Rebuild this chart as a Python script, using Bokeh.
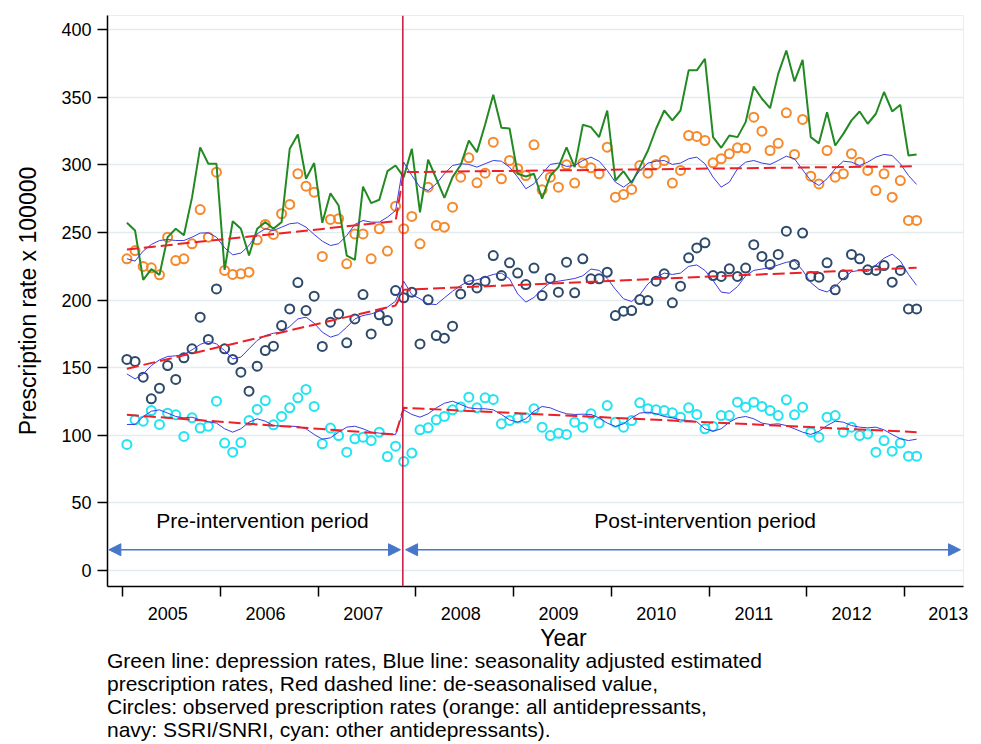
import pandas as pd
from bokeh.plotting import figure
from bokeh.layouts import column
from bokeh.models import FixedTicker, Span, Arrow, NormalHead, Label, Range1d
from bokeh.embed import file_html
from bokeh.resources import INLINE

# ---------------- data (monthly, Jan 2005 - Feb 2013) ----------------
months = pd.date_range("2005-01-01", periods=98, freq="MS")

depression = [257.2, 251.5, 215, 223, 218.7, 246.6, 252.8, 248, 276, 313,
              300.9, 300.9, 222.4, 258.4, 252.8, 233, 252.8, 257.7, 252.8, 257.7,
              312, 322.6, 289.8, 301.4, 257.2, 279, 270, 233, 229.8, 284,
              271.8, 274.3, 295.4, 299.6, 291, 312, 265, 304, 289.8, 275.7,
              291, 300, 318, 309.5, 330, 352, 327.5, 327, 293.5, 291.5,
              293.5, 275, 292, 298.4, 313, 298.4, 329.7, 328, 320.6, 340.3,
              288.5, 295.4, 286.6, 298.4, 310.7, 326.8, 340.3, 333, 340.3, 370,
              370, 378.5, 320.6, 312.7, 321.8, 320.6, 331.7, 358, 349, 342,
              367.4, 384.7, 361.8, 377.8, 320.6, 316, 339, 314.4, 323, 333,
              339.6, 330.5, 337.9, 354, 339.6, 344.5, 307, 307.8]

all_obs = [230.6, 236.7, 224.9, 223.9, 218.7, 246.6, 229.3, 230.6, 241.7, 267,
           246.6, 294.7, 222, 219, 219.5, 220.7, 244.6, 256, 248.6, 263.9,
           270.8, 293.5, 284.3, 279.9, 232.3, 259.7, 260.2, 226.9, 249, 249,
           230.6, 252.8, 236.3, 269.5, 252.8, 261.9, 241.7, 283.6, 255.2, 254,
           268.8, 291, 305.3, 286.8, 293.9, 316.9, 289.8, 303.3, 297.2, 292.2,
           314.9, 281.6, 291, 283.6, 300.1, 286.6, 301.4, 297.9, 293.5, 313.2,
           276.2, 278.2, 281.9, 299.6, 293.9, 300.4, 303.3, 286.6, 296, 321.8,
           321.1, 318.1, 301.6, 304.6, 308.3, 312.7, 312.5, 335.4, 325, 310.7,
           316, 338.6, 307.8, 333.7, 291.7, 286, 310.7, 291, 293.5, 308.3,
           302.1, 296, 281.1, 293.5, 276.2, 288.5, 259, 259]

ssri_obs = [156.1, 154.6, 143, 127, 134.8, 151.6, 141.3, 157.3, 164, 187.4,
            170.9, 208.3, 164, 156.1, 146.7, 132.6, 151.1, 162.7, 165.9, 181.2,
            193.5, 213, 192.3, 202.9, 165.7, 183.7, 189.8, 168.4, 186.1, 204.1,
            175, 189.1, 184.9, 207.1, 201.7, 205.9, 167.6, 200.2, 173.8, 171.8,
            180.7, 204.6, 215, 209, 214, 233, 218.2, 227.6, 220, 211.5,
            223.7, 203.4, 216, 205.9, 228.1, 205.4, 230.6, 215.8, 215.8, 220.7,
            188.6, 191.8, 192.3, 200.4, 199.7, 214, 219.5, 198, 210.3, 231.3,
            238.6, 242.4, 218.2, 217.5, 223.2, 217.5, 223.7, 241, 232.3, 226.4,
            233.8, 251, 226.4, 249.6, 217.5, 217, 227.6, 207.6, 218.7, 233.8,
            230.6, 222.4, 222, 225.6, 213.3, 222, 193.5, 193.5]

other_obs = [93.2, 111.4, 110.4, 118.3, 108, 116.3, 115.1, 99.1, 112.9, 105.3,
             106.7, 125.2, 94.2, 87.5, 94.6, 110.9, 119.1, 125.7, 107.7, 113.9,
             120.3, 127.7, 133.9, 121.3, 93.7, 105.3, 99.8, 87.5, 97.4, 98.6,
             96.1, 102.3, 84.3, 91.9, 80.6, 86.8, 104, 105.5, 111.4, 113.9,
             118.8, 121, 128.2, 120.3, 127.7, 126.5, 108.5, 111, 112.7, 113,
             119.6, 106, 99.8, 101.5, 100.6, 109.7, 106, 115.9, 109, 122,
             109.7, 106, 110.9, 124, 119.6, 118.8, 118.3, 116.6, 113.4, 120.3,
             115.4, 104.8, 106.5, 114.6, 114.6, 124.5, 120.8, 124.5, 121.3, 118.3,
             114.6, 126.2, 115.1, 120.8, 102.3, 98.6, 113.4, 114.6, 102.3, 106,
             99.8, 101, 87.5, 96.1, 88.2, 94.2, 84.5, 84.5]

all_fit = [230.6, 228.9, 236.3, 241.2, 244.1, 244.9, 244.1, 244.1, 246.6, 249.6,
           249.8, 246.6, 238.7, 233.5, 234.8, 240.4, 249.1, 252.8, 251.5, 254,
           256.5, 257.2, 254, 248.6, 243.6, 240.4, 241.7, 247.8, 256, 258.9,
           257.7, 257.7, 261.4, 266.3, 302.1, 292.2, 283.6, 281.1, 286.1, 293.5,
           299.6, 300.9, 300.4, 298.4, 300.9, 303.3, 302.8, 298.4, 291, 282.4,
           286.1, 293.5, 300.4, 301.4, 298.9, 299.6, 303.3, 305.8, 302.8, 295.9,
           287.3, 283.6, 288, 295.9, 301.4, 302.8, 303.3, 300.4, 301.4, 304.6,
           305.8, 300.9, 291, 283.6, 287.3, 297.2, 302.1, 303.3, 301.4, 300.4,
           303.3, 306.5, 304.6, 296.4, 288.5, 284.8, 289.8, 297.2, 302.8, 302.1,
           299.6, 302.1, 305.8, 307.8, 307, 300.9, 292.2, 285.6]

ssri_fit = [145.4, 141.7, 145.4, 151.6, 155.8, 158.3, 158.8, 159.8, 163.2, 167.2,
            169.4, 167.6, 162.7, 156.5, 157.8, 164, 170.1, 173.8, 175.5, 176.3,
            180.5, 186.1, 187.4, 182.9, 176.3, 172.6, 174.5, 180, 186.1, 188.6,
            189.8, 191.8, 194.8, 199.2, 214, 204.1, 201, 197.2, 196.7, 201.7,
            206.6, 210.8, 214, 215, 217, 219, 220, 215.8, 204.6, 198.5,
            202, 208, 213, 214, 215, 216, 218, 223, 222, 216,
            208, 201, 199, 204, 212, 217, 220, 219, 220, 225,
            226, 222, 214.5, 205.9, 205.1, 210, 218, 222, 223, 224,
            226, 228, 229, 222, 213, 208, 206, 210, 216, 221,
            222, 221, 226, 231, 234, 229, 219, 211]

other_fit = [108, 108, 113.9, 117.8, 118.8, 116.4, 113.9, 112.9, 113.4, 111.4,
             110, 109, 104.8, 102.3, 104.8, 109.7, 112.2, 110.4, 107.2, 106.7,
             106.7, 106.5, 104.8, 100.6, 97.1, 98.1, 102.3, 106, 106.7, 104.8,
             102.3, 101.6, 100.6, 100.6, 118.8, 115.4, 113.4, 115.9, 120.3, 123.7,
             125.2, 122.8, 120.3, 119.6, 119.6, 118.8, 115.4, 111.4, 109.7, 112.2,
             117.8, 121.3, 120.3, 117.8, 115.9, 115.4, 115.6, 115.4, 112.9, 109,
             106.5, 108.5, 112.9, 116.4, 117.1, 115.9, 113.9, 112.9, 111.4, 110.9,
             110, 104.8, 103, 104.8, 109.7, 112.9, 113.9, 112.2, 109, 108,
             108.5, 107.2, 104.8, 102.3, 100.6, 103, 107.2, 110.4, 109.7, 107.2,
             106, 105.5, 106, 104, 100.6, 97.4, 96.1, 97.1]

# de-seasonalised segmented trends: values at first/last month pre and post intervention
trend_idx = [0, 33, 34, 97]
all_trend = [237.5, 258.4, 294.7, 299.1]
ssri_trend = [149.2, 196.0, 207.6, 224.0]
other_trend = [115.1, 100.6, 120.3, 102.3]

year_ticks = [2005, 2006, 2007, 2008, 2009, 2010, 2011, 2012, 2013]
y_ticks = [0, 50, 100, 150, 200, 250, 300, 350, 400]
intervention = 2007.866

caption = [
    "Green line: depression rates, Blue line: seasonality adjusted estimated",
    "prescription rates, Red dashed line: de-seasonalised value,",
    "Circles: observed prescription rates (orange: all antidepressants,",
    "navy: SSRI/SNRI, cyan: other antidepressants).",
]

# ---------------- main figure ----------------
t = list(months.year + (months.month - 0.5) / 12.0)
t_trend = [t[i] for i in trend_idx]

FONT = "Liberation Sans"
GREEN = "#238a23"
ORANGE = "#f5892b"
NAVY = "#2d4a6a"
CYAN = "#22e3f0"
BLUE = "#3c3ce0"
RED = "#ec2026"
ARROW = "#4677c8"

W = 973
H1 = 623
H2 = 121
LEFT = 107
RIGHT = 10

p = figure(width=W, height=H1, output_backend="svg", toolbar_location=None,
           x_range=(2004.843, 2013.605), y_range=(-11.9, 410.6),
           min_border_left=LEFT, min_border_right=RIGHT, min_border_top=15,
           min_border_bottom=37)
p.background_fill_color = "white"
p.border_fill_color = "white"
p.outline_line_color = "#e6eef1"

for vals, col in [(all_obs, ORANGE), (ssri_obs, NAVY), (other_obs, CYAN)]:
    p.scatter(t, vals, marker="circle", size=9, fill_color=None,
              line_color=col, line_width=2)

p.line(t, depression, line_color=GREEN, line_width=2)

for vals in [all_fit, ssri_fit, other_fit]:
    p.line(t, vals, line_color=BLUE, line_width=1)

for vals in [all_trend, ssri_trend, other_trend]:
    p.line(t_trend, vals, line_color=RED, line_width=2, line_dash="12 5")

p.add_layout(Span(location=intervention, dimension="height",
                  line_color="#c8143a", line_width=1.5))

p.xgrid.visible = False
p.ygrid.grid_line_color = "#e3ecef"
p.ygrid.grid_line_width = 1.5

p.yaxis.ticker = FixedTicker(ticks=y_ticks)
p.yaxis.major_tick_out = 10
p.yaxis.major_tick_in = 0
p.yaxis.minor_tick_out = 0
p.yaxis.minor_tick_in = 0
p.yaxis.major_tick_line_width = 1.5
p.yaxis.axis_line_width = 1.5
p.yaxis.major_label_text_font = FONT
p.yaxis.major_label_text_font_size = "18px"
p.yaxis.major_label_text_color = "black"
p.yaxis.major_label_standoff = 6
p.yaxis.axis_label = "Prescription rate x 100000"
p.yaxis.axis_label_text_font = FONT
p.yaxis.axis_label_text_font_size = "23px"
p.yaxis.axis_label_text_font_style = "normal"
p.yaxis.axis_label_text_color = "black"
p.yaxis.axis_label_standoff = 17

label_pos = [y + 0.46 for y in year_ticks[:-1]] + [year_ticks[-1] + 0.45]
p.xaxis.ticker = FixedTicker(ticks=label_pos, minor_ticks=year_ticks)
p.xaxis.major_label_overrides = {pos: str(y) for pos, y in zip(label_pos, year_ticks)}
p.xaxis.major_tick_line_color = None
p.xaxis.major_tick_out = 0
p.xaxis.major_tick_in = 0
p.xaxis.minor_tick_out = 10
p.xaxis.minor_tick_in = 0
p.xaxis.minor_tick_line_width = 1.5
p.xaxis.minor_tick_line_color = "black"
p.xaxis.axis_line_width = 1.5
p.xaxis.major_label_text_font = FONT
p.xaxis.major_label_text_font_size = "18px"
p.xaxis.major_label_text_color = "black"
p.xaxis.major_label_standoff = 10

for x0, x1, txt_x, txt in [(2004.857, 2007.842, 2006.43, "Pre-intervention period"),
                           (2007.894, 2013.574, 2010.96, "Post-intervention period")]:
    p.add_layout(Arrow(start=NormalHead(size=12, fill_color=ARROW, line_color=ARROW),
                       end=NormalHead(size=12, fill_color=ARROW, line_color=ARROW),
                       x_start=x0, y_start=15.3, x_end=x1, y_end=15.3,
                       line_color=ARROW, line_width=1.5))
    p.add_layout(Label(x=txt_x, y=37, text=txt, text_align="center",
                       text_baseline="middle", text_font=FONT,
                       text_font_size="21px", text_color="black"))

# ---------------- caption strip (x title + notes) ----------------
# its frame is aligned with the main frame, so x is in page pixels LEFT .. W-RIGHT
c = figure(width=W, height=H2, output_backend="svg", toolbar_location=None,
           x_range=Range1d(LEFT, W - RIGHT), y_range=Range1d(H2, 0),
           x_axis_type=None, y_axis_type=None,
           min_border_left=LEFT, min_border_right=RIGHT,
           min_border_top=0, min_border_bottom=0)
c.outline_line_color = None
c.grid.visible = False
c.background_fill_color = "white"
c.border_fill_color = "white"

c.add_layout(Label(x=563, y=14, text="Year", text_align="center",
                   text_baseline="middle", text_font=FONT,
                   text_font_size="23px", text_color="black"))
for k, line in enumerate(caption):
    c.add_layout(Label(x=LEFT, x_offset=-0.5, y=37 + 23 * k, text=line,
                       text_align="left", text_baseline="middle", text_font=FONT,
                       text_font_size="21px", text_color="black"))

layout = column(p, c, spacing=0)
open("out.html", "w").write(file_html(layout, INLINE))
